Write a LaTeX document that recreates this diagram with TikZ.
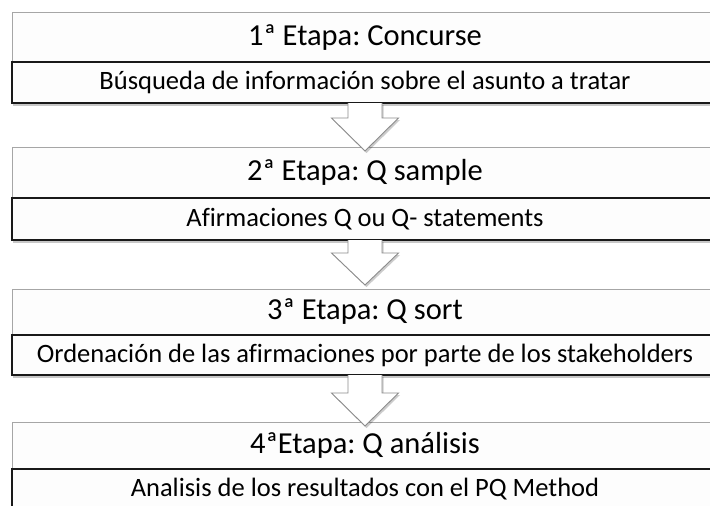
\documentclass[tikz,border=0pt]{standalone}
\usepackage{fontspec}
\setmainfont{Carlito}[Ligatures={NoCommon}]
\frenchspacing
\usetikzlibrary{calc,shadows}
\definecolor{hdrline}{HTML}{A6A6A6}
\definecolor{arrline}{HTML}{8C8C8C}
\definecolor{boxfill}{HTML}{FDFDFD}
\tikzset{
  hdrbox/.style={draw=hdrline, line width=1pt, fill=boxfill, minimum width=706pt,
    anchor=north, inner sep=0pt, outer sep=0pt, font=\fontsize{30.5}{34}\selectfont,
    general shadow={shadow xshift=1pt, shadow yshift=-2pt, fill=black, opacity=0.18}},
  subbox/.style={draw=black!90, line width=1.8pt, fill=boxfill, minimum width=706pt,
    anchor=north, inner sep=0pt, outer sep=0pt, font=\fontsize{26.5}{30}\selectfont,
    general shadow={shadow xshift=1pt, shadow yshift=-2.5pt, fill=black, opacity=0.22}},
  barrow/.style={draw=arrline, line width=0.9pt, fill=white, line join=miter,
    general shadow={shadow xshift=1.5pt, shadow yshift=-2pt, fill=black, opacity=0.2}}
}
\begin{document}
\begin{tikzpicture}[x=1pt,y=-1pt]
\useasboundingbox (0,0) rectangle (710,506);
\fill[white] (0,0) rectangle (710,506);
\begin{scope}
\clip (0,0) rectangle (710,506);
% stage 1
\node[hdrbox, minimum height=49.5pt] (h1) at (365,12.5) {1ª Etapa: Concurse};
\node[subbox, minimum height=41pt] (s1) at (h1.south) {Búsqueda de información sobre el asunto a tratar};
% stage 2
\node[hdrbox, minimum height=51pt] (h2) at (365,147) {2ª Etapa: Q sample};
\node[subbox, minimum height=42pt] (s2) at (h2.south) {Afirmaciones Q ou Q- statements};
% stage 3
\node[hdrbox, minimum height=46pt] (h3) at (365,289) {3ª Etapa: Q sort};
\node[subbox, minimum height=40pt] (s3) at (h3.south) {Ordenación de las afirmaciones por parte de los stakeholders};
% stage 4
\node[hdrbox, minimum height=47pt] (h4) at (365,422) {4ªEtapa: Q análisis};
\node[subbox, minimum height=41pt] (s4) at (h4.south) {Analisis de los resultados con el PQ Method};
% block arrows
\coordinate (t1) at ($(h2.north)+(0,4)$);
\coordinate (t2) at ($(h3.north)+(0,-4)$);
\coordinate (t3) at ($(h4.north)+(0,4)$);
\draw[barrow] ($(s1.south)+(-17,0)$) -- ($(t1)+(-17,-33)$) -- ($(t1)+(-33.5,-33)$) -- (t1)
  -- ($(t1)+(33.5,-33)$) -- ($(t1)+(17,-33)$) -- ($(s1.south)+(17,0)$);
\draw[barrow] ($(s2.south)+(-17,0)$) -- ($(t2)+(-17,-32)$) -- ($(t2)+(-33.5,-32)$) -- (t2)
  -- ($(t2)+(33.5,-32)$) -- ($(t2)+(17,-32)$) -- ($(s2.south)+(17,0)$);
\draw[barrow] ($(s3.south)+(-17,0)$) -- ($(t3)+(-17,-33)$) -- ($(t3)+(-33.5,-33)$) -- (t3)
  -- ($(t3)+(33.5,-33)$) -- ($(t3)+(17,-33)$) -- ($(s3.south)+(17,0)$);
\end{scope}
\end{tikzpicture}
\end{document}
